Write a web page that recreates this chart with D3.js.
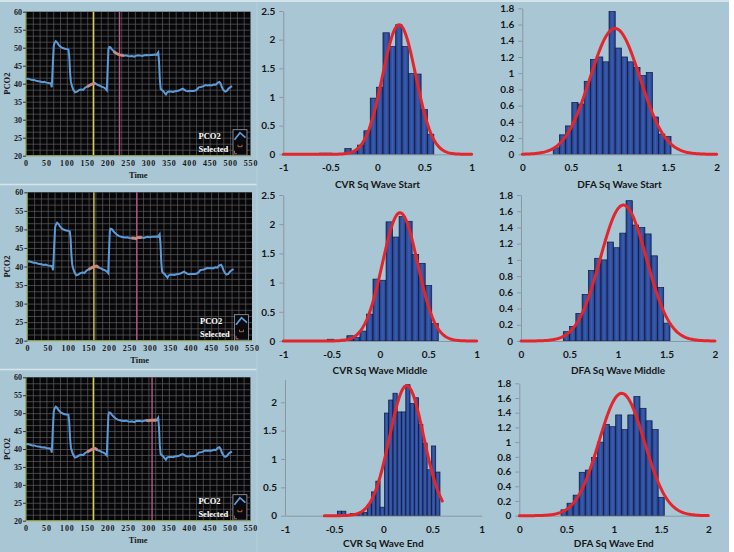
<!DOCTYPE html>
<html><head><meta charset="utf-8">
<script src="https://cdn.jsdelivr.net/npm/d3@7"></script>
<style>body{margin:0;background:#fff}svg{display:block}</style>
</head><body><svg id="c" width="734" height="552"></svg>
<script>
// ---------------- DATA ----------------
const pco2Time = [0,5,10,15,20,25,30,35,40,45,50,55,60,62,63,64,66,68,70,73,76,80,85,90,95,100,104,106,108,110,113,116,120,125,130,135,140,145,150,155,160,165,170,175,180,185,190,195,198,200,202,204,207,210,215,220,225,230,235,240,245,250,255,260,265,270,275,280,285,290,295,300,305,310,315,320,324,326,328,330,333,336,340,343,346,350,355,360,365,370,375,380,384,388,392,396,400,405,410,415,420,423,428,432,436,440,445,450,455,460,465,470,474,477,480,484,488,492,496,500,505];
const pco2Value = [41.3,41.4,41.2,41.0,41.0,40.8,40.7,40.6,40.4,40.5,40.3,40.2,40.1,39.6,39.0,41.0,46.0,50.5,51.3,51.8,51.5,50.8,50.2,49.9,49.7,49.6,49.5,47.5,43.0,40.5,39.2,38.3,37.6,37.8,38.2,38.4,38.3,38.9,39.2,39.5,39.8,40.0,40.1,39.7,39.5,39.2,39.0,38.6,38.2,44.0,49.5,50.2,50.1,49.6,49.0,48.5,48.2,48.0,47.9,47.8,47.9,47.7,47.6,47.7,47.5,47.8,47.9,47.8,47.7,47.9,48.0,47.9,48.0,48.0,48.1,48.0,48.7,46.0,41.0,38.6,38.2,38.0,37.4,37.0,37.6,37.8,37.8,37.7,37.9,38.0,38.1,38.4,38.6,38.3,38.0,37.9,38.0,38.0,38.0,38.1,38.5,39.0,39.1,39.2,39.4,39.6,39.5,39.6,39.5,39.8,39.7,40.3,40.5,40.0,39.0,38.2,37.8,38.0,38.6,39.0,39.3];
const yellowCursor = [165, 163, 165];
const pinkCursor = [229, 268, 309];
const selectedRanges = [[[150,172],[214,240]], [[150,178],[255,280]], [[150,177],[295,322]]];
const tsXTicks = [0,50,100,150,200,250,300,350,400,450,500,550];
const tsYTicks = [20,25,30,35,40,45,50,55,60];

const cvrXTicks = [-1,-0.5,0,0.5,1];
const dfaXTicks = [0,0.5,1,1.5,2];
const cvrYTicks = [0,0.5,1,1.5,2,2.5];
const cvrEndYTicks = [0,0.5,1,1.5,2];
const dfaYTicks = [0,0.2,0.4,0.6,0.8,1,1.2,1.4,1.6,1.8];

const cvrStartBinStart = -0.617, cvrStartBinWidth = 0.0675;
const cvrStartHeights = [0.02,0.02,0,0,0.1,0.05,0.16,0.41,0.98,1.17,2.12,1.88,2.26,1.88,1.41,1.40,0.78,0.35];
const cvrMiddleBinStart = -0.545, cvrMiddleBinWidth = 0.0675;
const cvrMiddleHeights = [0.03,0,0.03,0.09,0.06,0.17,0.46,1.06,1.04,2.04,1.78,2.13,2.05,1.48,1.33,0.95,0.3];
const cvrEndBinStart = -0.468, cvrEndBinWidth = 0.0435;
const cvrEndHeights = [0.08,0.08,0,0.04,0.04,0.05,0.06,0.2,0.42,0.61,0.15,1.81,2.04,2.16,1.83,1.83,2.31,1.98,2.08,1.61,1.28,0.81,1.23,0.77];
const dfaStartBinStart = 0.318, dfaStartBinWidth = 0.0638;
const dfaStartHeights = [0.08,0.24,0.35,0.64,0.62,0.9,1.17,1.2,1.14,1.76,1.31,1.2,1.14,1.07,0.97,1.01,0.46,0.25,0.22];
const dfaMiddleBinStart = 0.436, dfaMiddleBinWidth = 0.0647;
const dfaMiddleHeights = [0.115,0.18,0.34,0.575,0.87,1.02,1.0,1.22,1.15,1.33,1.73,1.43,1.40,1.32,1.05,0.66,0.22];
const dfaEndBinStart = 0.441, dfaEndBinWidth = 0.0643;
const dfaEndHeights = [0.08,0.17,0.28,0.59,0.62,0.79,1.0,1.24,1.21,1.37,1.17,1.37,1.62,1.46,1.29,1.17,0.25];

// normal fit parameters (mean, sd) and drawn range
const fitMeans = {cvrStart:0.23, cvrMiddle:0.207, cvrEnd:0.237, dfaStart:0.954, dfaMiddle:1.055, dfaEnd:1.083};
const fitSds   = {cvrStart:0.1765, cvrMiddle:0.1816, cvrEnd:0.174, dfaStart:0.257, dfaMiddle:0.238, dfaEnd:0.2398};
const fitRanges = {cvrStart:[-1,1], cvrMiddle:[-1,1], cvrEnd:[-0.6,0.6], dfaStart:[0,2], dfaMiddle:[0,2], dfaEnd:[0,2]};
const histTitles = {cvrStart:"CVR Sq Wave Start", cvrMiddle:"CVR Sq Wave Middle", cvrEnd:"CVR Sq Wave End",
  dfaStart:"DFA Sq Wave Start", dfaMiddle:"DFA Sq Wave Middle", dfaEnd:"DFA Sq Wave End"};

// ---------------- DRAW ----------------
const svg = d3.select('#c');
svg.append('rect').attr('x',0).attr('y',0).attr('width',729).attr('height',552).attr('fill','#a9c6d5');
svg.append('rect').attr('x',0).attr('y',0).attr('width',729).attr('height',2).attr('fill','#d3e3eb');

[184.5, 369.5].forEach(yy => svg.append('line').attr('x1',0).attr('x2',257).attr('y1',yy).attr('y2',yy)
  .attr('stroke','#d6e5ec').attr('stroke-width',1.6));
svg.append('line').attr('x1',257).attr('x2',257).attr('y1',2).attr('y2',552).attr('stroke','#b6cfdc').attr('stroke-width',1);

const serif = "'Liberation Serif','DejaVu Serif',serif";
const sans = "Lato,'Open Sans',sans-serif";

const tsLayout = [
  {left:26, right:250.5, top:11.7, bottom:155.7, timeY:177.5},
  {left:27.3, right:252, top:192.3, bottom:340.7, timeY:362.5},
  {left:26, right:250.4, top:377.3, bottom:520.7, timeY:543}
];
const pts = pco2Time.map((t,i)=>[t, pco2Value[i]]);

tsLayout.forEach((L, r) => {
  const x = d3.scaleLinear().domain([0,550]).range([L.left, L.right]);
  const y = d3.scaleLinear().domain([20,60]).range([L.bottom, L.top]);
  const g = svg.append('g');
  const w = L.right-L.left, h = L.bottom-L.top;
  g.append('rect').attr('x',L.left).attr('y',L.top).attr('width',w).attr('height',h).attr('fill','#07070a');
  const clipId = 'clip'+r;
  g.append('clipPath').attr('id',clipId).append('rect').attr('x',L.left).attr('y',L.top).attr('width',w).attr('height',h);
  const gxVals = d3.range(1,33).map(k=>k*50/3);
  const gyVals = d3.range(1,24).map(k=>20+k*5/3);
  const gridX = g.append('g').attr('transform',`translate(0,${L.bottom})`)
    .call(d3.axisBottom(x).tickValues(gxVals).tickSize(-h).tickFormat(''));
  const gridY = g.append('g').attr('transform',`translate(${L.left},0)`)
    .call(d3.axisLeft(y).tickValues(gyVals).tickSize(-w).tickFormat(''));
  [gridX, gridY].forEach(s => { s.select('.domain').remove(); s.selectAll('line').attr('stroke','#5e5e60').attr('stroke-width',0.7); });

  g.append('line').attr('x1',x(yellowCursor[r])).attr('x2',x(yellowCursor[r])).attr('y1',L.top).attr('y2',L.bottom)
    .attr('stroke','#d9cc4c').attr('stroke-width',1.4);
  g.append('line').attr('x1',x(pinkCursor[r])).attr('x2',x(pinkCursor[r])).attr('y1',L.top).attr('y2',L.bottom)
    .attr('stroke','#b9558a').attr('stroke-width',1.4);

  const line = d3.line().x(d=>x(d[0])).y(d=>y(d[1]));
  g.append('path').datum(pts).attr('d',line).attr('fill','none').attr('stroke','#5b9bd8')
    .attr('stroke-width',2).attr('clip-path',`url(#${clipId})`);
  selectedRanges[r].forEach(rg => {
    const sub = pts.filter(p => p[0]>=rg[0] && p[0]<=rg[1]);
    g.append('path').datum(sub).attr('d',line).attr('fill','none').attr('stroke','#d88a7c')
      .attr('stroke-width',3).attr('opacity',0.85);
  });

  g.append('line').attr('x1',L.left).attr('x2',L.left).attr('y1',L.top).attr('y2',L.bottom).attr('stroke','#8a9a3c').attr('stroke-width',1.2);
  g.append('line').attr('x1',L.left).attr('x2',L.right).attr('y1',L.bottom).attr('y2',L.bottom).attr('stroke','#8a9a3c').attr('stroke-width',1.2);

  const ay = g.append('g').attr('transform',`translate(${L.left},0)`)
    .call(d3.axisLeft(y).tickValues(tsYTicks).tickSize(3).tickPadding(1).tickSizeOuter(0));
  ay.select('.domain').remove();
  ay.selectAll('line').attr('stroke','#333');
  ay.selectAll('text').attr('font-family',serif).attr('font-weight','bold').attr('font-size',8).attr('fill','#1a1a1a');
  const ax = g.append('g').attr('transform',`translate(0,${L.bottom})`)
    .call(d3.axisBottom(x).tickValues(tsXTicks).tickSize(0).tickPadding(5).tickSizeOuter(0));
  ax.select('.domain').remove();
  ax.selectAll('text').attr('font-family',serif).attr('font-weight','bold').attr('font-size',8)
    .attr('letter-spacing',0.8).attr('fill','#1a1a1a');

  g.append('text').attr('x',(L.left+L.right)/2).attr('y',L.timeY).attr('text-anchor','middle')
    .attr('font-family',serif).attr('font-weight','bold').attr('font-size',8.5).attr('fill','#1a1a1a').text('Time');
  g.append('text').attr('transform',`translate(10,${(L.top+L.bottom)/2}) rotate(-90)`).attr('text-anchor','middle')
    .attr('font-family',serif).attr('font-weight','bold').attr('font-size',8.5).attr('fill','#1a1a1a').text('PCO2');

  const bx = L.right-17.5, by = L.bottom-26;
  g.append('text').attr('x',L.right-52).attr('y',L.bottom-17).attr('font-family',serif).attr('font-weight','bold')
    .attr('font-size',8.5).attr('fill','#fff').text('PCO2');
  g.append('text').attr('x',L.right-52).attr('y',L.bottom-4).attr('font-family',serif).attr('font-weight','bold')
    .attr('font-size',8.5).attr('fill','#fff').text('Selected');
  g.append('rect').attr('x',bx).attr('y',by).attr('width',14).attr('height',25.5).attr('fill','#0a0a0e')
    .attr('stroke','#9aa0a8').attr('stroke-width',0.8);
  g.append('path').attr('d',`M${bx+1.5},${by+10} L${bx+7},${by+3} L${bx+12.5},${by+8}`).attr('fill','none')
    .attr('stroke','#5b9bd8').attr('stroke-width',1.8);
  g.append('path').attr('d',`M${bx+5},${by+15} L${bx+5},${by+17} L${bx+9},${by+17} L${bx+9},${by+15}`).attr('fill','none')
    .attr('stroke','#d9734a').attr('stroke-width',0.8);
  g.append('path').attr('d',`M${bx+1.5},${by+21} L${bx+1.5},${by+24} L${bx+4},${by+24}`).attr('fill','none')
    .attr('stroke','#d9734a').attr('stroke-width',0.8);
});

const histPanels = [
  {key:'cvrStart', start:cvrStartBinStart, width:cvrStartBinWidth, heights:cvrStartHeights, xDomain:[-1,1], xTicks:cvrXTicks, yMax:2.5, yTicks:cvrYTicks,
   left:283.3, right:471.7, top:11, bottom:154.3, titleY:188},
  {key:'cvrMiddle', start:cvrMiddleBinStart, width:cvrMiddleBinWidth, heights:cvrMiddleHeights, xDomain:[-1,1], xTicks:cvrXTicks, yMax:2.5, yTicks:cvrYTicks,
   left:283.3, right:476.7, top:195, bottom:341, titleY:373.5},
  {key:'cvrEnd', start:cvrEndBinStart, width:cvrEndBinWidth, heights:cvrEndHeights, xDomain:[-1,1], xTicks:cvrXTicks, yMax:2.4, yTicks:cvrEndYTicks,
   left:285, right:481.7, top:379.6, bottom:515.7, titleY:546.5},
  {key:'dfaStart', start:dfaStartBinStart, width:dfaStartBinWidth, heights:dfaStartHeights, xDomain:[0,2], xTicks:dfaXTicks, yMax:1.8, yTicks:dfaYTicks,
   left:522.3, right:716.7, top:8.3, bottom:154.3, titleY:188},
  {key:'dfaMiddle', start:dfaMiddleBinStart, width:dfaMiddleBinWidth, heights:dfaMiddleHeights, xDomain:[0,2], xTicks:dfaXTicks, yMax:1.8, yTicks:dfaYTicks,
   left:521, right:715, top:195, bottom:341, titleY:373.5},
  {key:'dfaEnd', start:dfaEndBinStart, width:dfaEndBinWidth, heights:dfaEndHeights, xDomain:[0,2], xTicks:dfaXTicks, yMax:1.8, yTicks:dfaYTicks,
   left:519.3, right:708.3, top:383.3, bottom:515.7, titleY:546.5}
];

const defs = svg.append('defs');
const grad = defs.append('linearGradient').attr('id','barGrad').attr('x1','0').attr('x2','1').attr('y1','0').attr('y2','0');
grad.append('stop').attr('offset','0%').attr('stop-color','#243f86');
grad.append('stop').attr('offset','50%').attr('stop-color','#3a5db3');
grad.append('stop').attr('offset','100%').attr('stop-color','#243f86');

const fmt = d => String(+d.toFixed(1));

histPanels.forEach(P => {
  const x = d3.scaleLinear().domain(P.xDomain).range([P.left, P.right]);
  const y = d3.scaleLinear().domain([0,P.yMax]).range([P.bottom, P.top]);
  const g = svg.append('g');
  const bins = P.heights.map((hv,i)=>({x0:P.start+i*P.width, x1:P.start+(i+1)*P.width, h:hv}));
  g.selectAll('rect.bar').data(bins.filter(b=>b.h>0)).join('rect').attr('class','bar')
    .attr('x',b=>x(b.x0)).attr('width',b=>x(b.x1)-x(b.x0))
    .attr('y',b=>y(b.h)).attr('height',b=>y(0)-y(b.h))
    .attr('fill','url(#barGrad)').attr('stroke','#101a3c').attr('stroke-width',0.7);

  const ay = g.append('g').attr('transform',`translate(${P.left},0)`)
    .call(d3.axisLeft(y).tickValues(P.yTicks).tickSize(4).tickPadding(4).tickSizeOuter(0).tickFormat(fmt));
  ay.select('.domain').attr('stroke','#8b98a2');
  ay.selectAll('line').attr('stroke','#8b98a2');
  ay.selectAll('text').attr('font-family',sans).attr('font-weight','bold').attr('font-size',10).attr('fill','#161616');

  const ax = g.append('g').attr('transform',`translate(0,${P.bottom})`)
    .call(d3.axisBottom(x).tickValues(P.xTicks).tickSize(0).tickPadding(10).tickSizeOuter(0).tickFormat(fmt));
  ax.select('.domain').attr('stroke','#8b98a2');
  ax.selectAll('text').attr('font-family',sans).attr('font-weight','bold').attr('font-size',10).attr('fill','#161616');

  const m = fitMeans[P.key], s = fitSds[P.key], rg = fitRanges[P.key];
  const pdf = v => Math.exp(-0.5*((v-m)/s)**2)/(s*Math.sqrt(2*Math.PI));
  const xs = d3.range(0,201).map(k => rg[0] + (rg[1]-rg[0])*k/200);
  g.append('path').datum(xs).attr('d', d3.line().x(v=>x(v)).y(v=>y(pdf(v))))
    .attr('fill','none').attr('stroke','#e3262c').attr('stroke-width',3).attr('stroke-linecap','round');

  g.append('text').attr('x',(P.left+P.right)/2).attr('y',P.titleY).attr('text-anchor','middle')
    .attr('font-family',sans).attr('font-weight','bold').attr('font-size',10).attr('fill','#161616').text(histTitles[P.key]);
});
</script></body></html>
